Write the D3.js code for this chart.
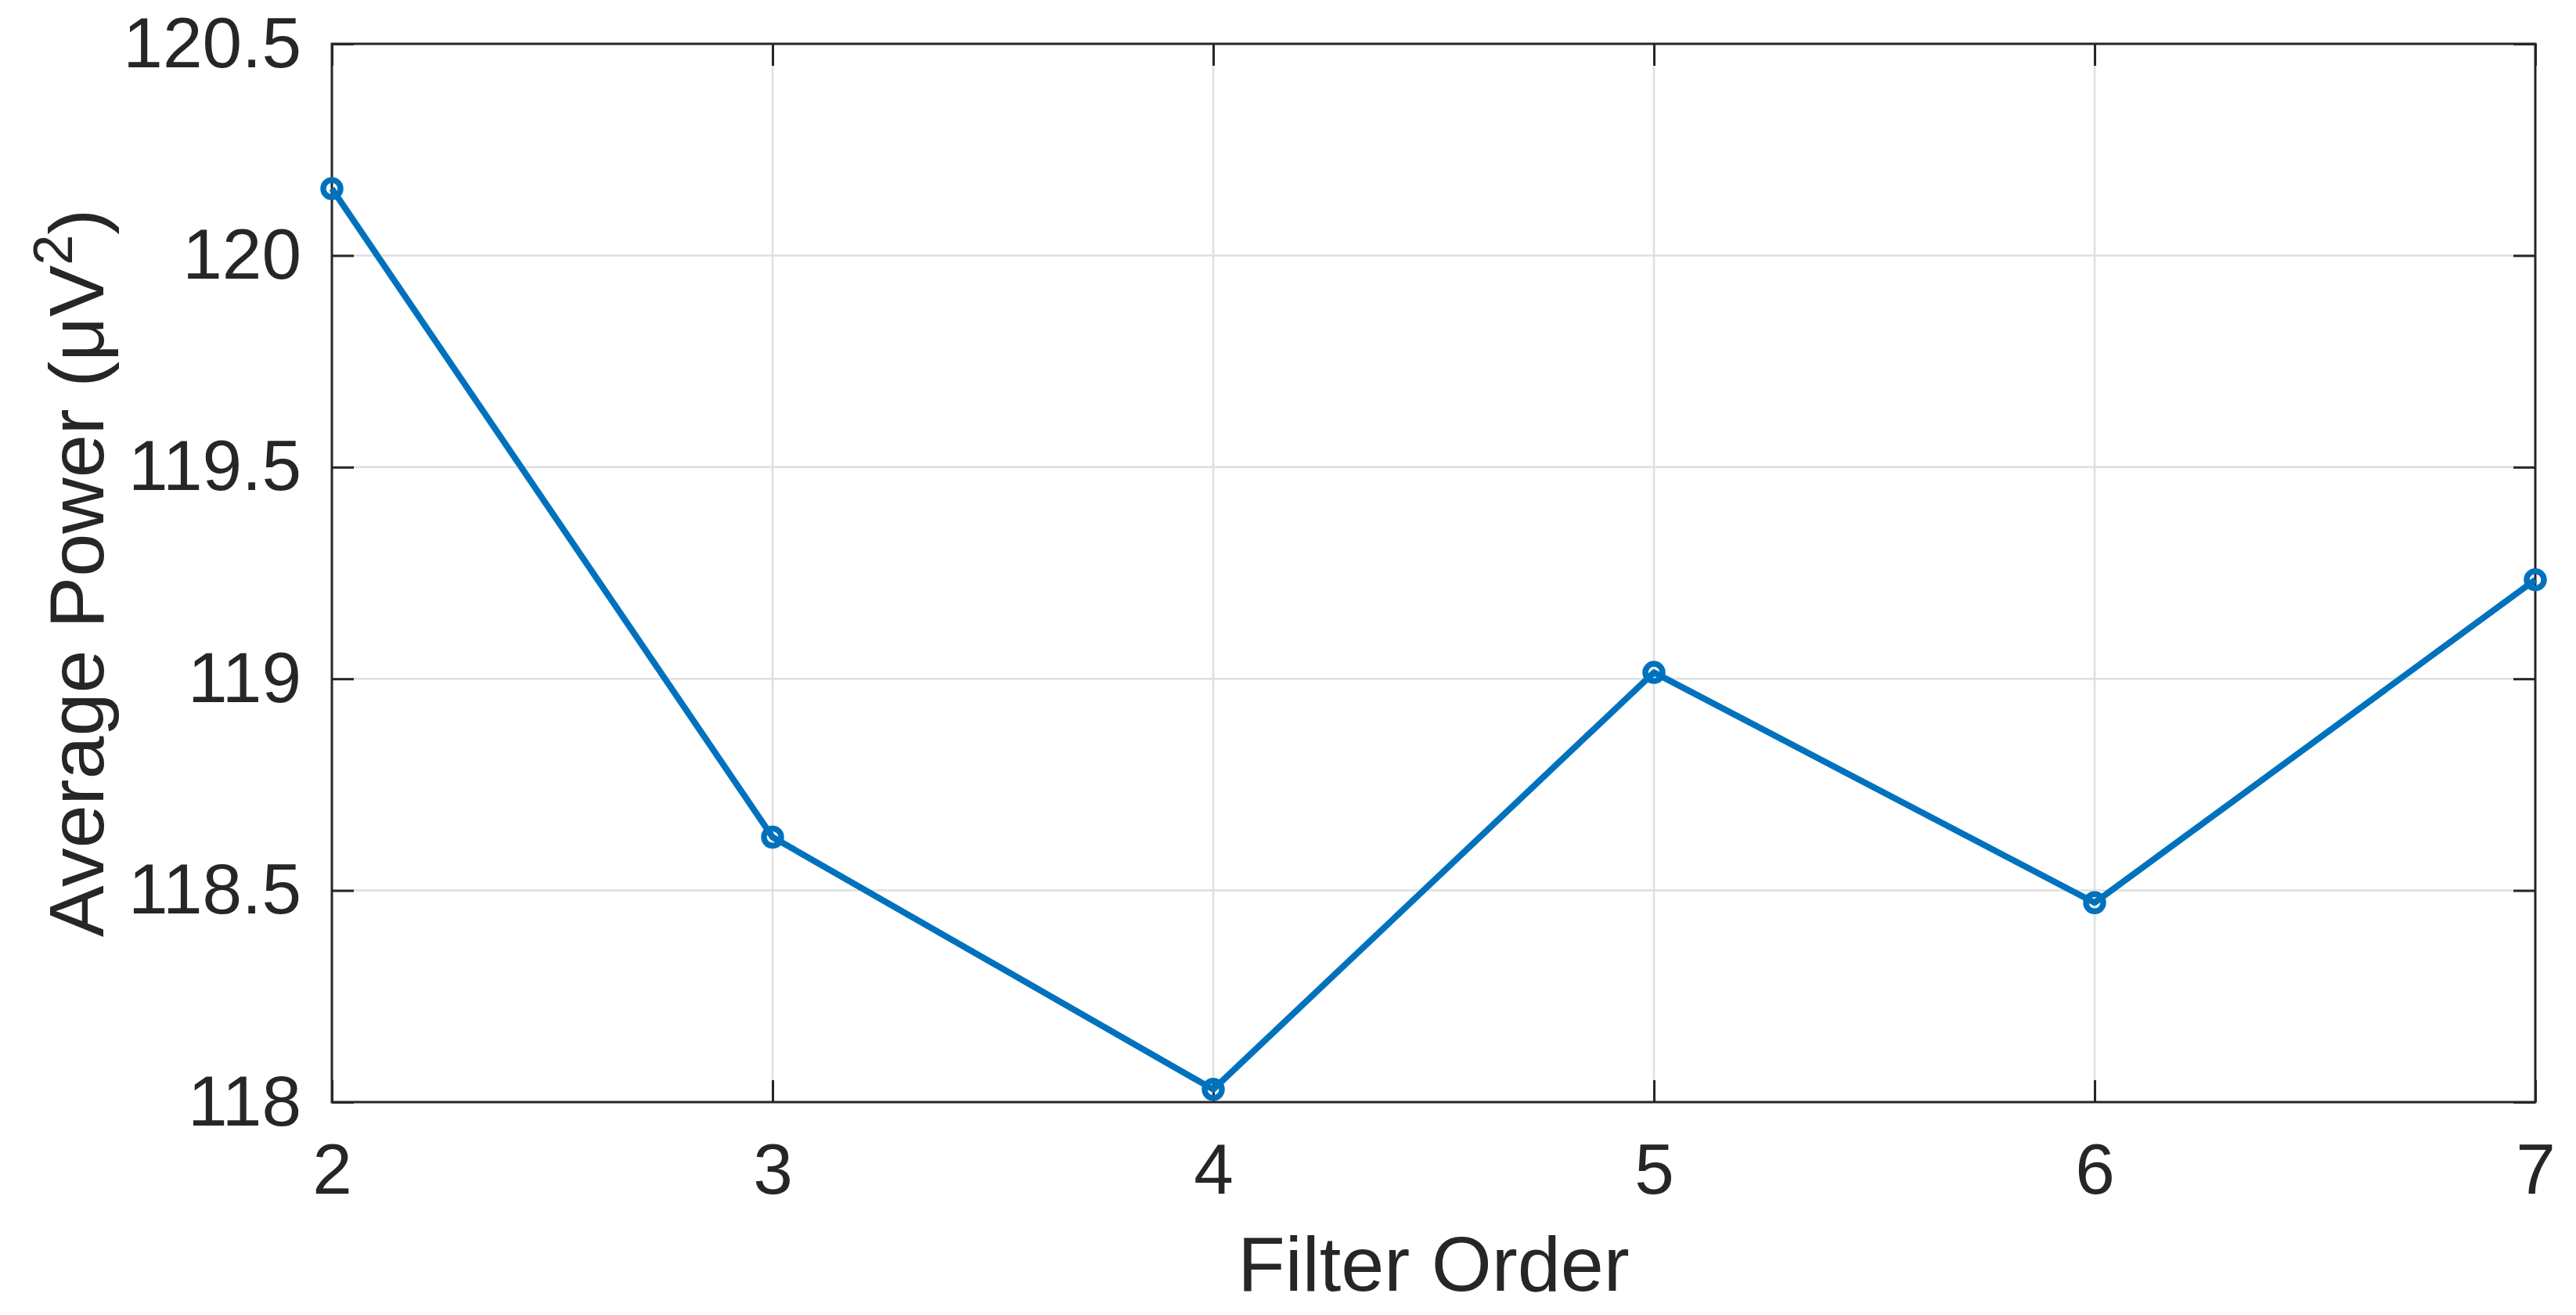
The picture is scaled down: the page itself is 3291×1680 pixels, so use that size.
<!DOCTYPE html>
<html>
<head>
<meta charset="utf-8">
<script src="https://cdn.jsdelivr.net/npm/d3@7"></script>
<style>
  html, body { margin: 0; padding: 0; background: #fff; }
  svg { display: block; }
  text { font-family: "Liberation Sans", Arial, Helvetica, sans-serif; fill: #262626; }
</style>
</head>
<body>
<script>
// Data
const filterOrders = [2, 3, 4, 5, 6, 7];
const averagePower = [120.158, 118.626, 118.030, 119.015, 118.471, 119.234];
const xTicks = [2, 3, 4, 5, 6, 7];
const yTicks = [118, 118.5, 119, 119.5, 120, 120.5];
const xLabel = "Filter Order";

const W = 3291, H = 1680;
const margin = { left: 424, right: W - 3239, top: 56, bottom: H - 1408 };
const iw = W - margin.left - margin.right;
const ih = H - margin.top - margin.bottom;

const svg = d3.select("body").append("svg").attr("width", W).attr("height", H);
svg.append("rect").attr("width", W).attr("height", H).attr("fill", "#fff");
const g = svg.append("g").attr("transform", `translate(${margin.left},${margin.top})`);

const x = d3.scaleLinear().domain([2, 7]).range([0, iw]);
const y = d3.scaleLinear().domain([118, 120.5]).range([ih, 0]);

// Grid
g.append("g").selectAll("line").data(xTicks.slice(1, -1)).join("line")
  .attr("x1", d => x(d)).attr("x2", d => x(d)).attr("y1", 0).attr("y2", ih)
  .attr("stroke", "#dfdfdf").attr("stroke-width", 2.5);
g.append("g").selectAll("line").data(yTicks.slice(1, -1)).join("line")
  .attr("y1", d => y(d)).attr("y2", d => y(d)).attr("x1", 0).attr("x2", iw)
  .attr("stroke", "#dfdfdf").attr("stroke-width", 2.5);

const tickLen = 28;
const fmtY = d => (Number.isInteger(d) ? d3.format("d")(d) : d3.format(".1f")(d));

// Axes (ticks inward)
const xAxis = g.append("g").attr("transform", `translate(0,${ih})`)
  .call(d3.axisBottom(x).tickValues(xTicks).tickFormat(d3.format("d")).tickSizeInner(-tickLen).tickSizeOuter(0).tickPadding(52));
const xAxisTop = g.append("g")
  .call(d3.axisTop(x).tickValues(xTicks).tickFormat("").tickSizeInner(-tickLen).tickSizeOuter(0));
const yAxis = g.append("g")
  .call(d3.axisLeft(y).tickValues(yTicks).tickFormat(fmtY).tickSizeInner(-tickLen).tickSizeOuter(0).tickPadding(39));
const yAxisRight = g.append("g").attr("transform", `translate(${iw},0)`)
  .call(d3.axisRight(y).tickValues(yTicks).tickFormat("").tickSizeInner(-tickLen).tickSizeOuter(0));

[xAxis, xAxisTop, yAxis, yAxisRight].forEach(a => {
  a.select(".domain").remove();
  a.selectAll(".tick line").attr("stroke", "#262626").attr("stroke-width", 3);
  a.selectAll("text").attr("font-size", 91).attr("fill", "#262626")
    .attr("font-family", '"Liberation Sans", Arial, sans-serif');
});
xAxis.selectAll("text").attr("dy", "0.71em");

// Box
g.append("rect").attr("x", 0).attr("y", 0).attr("width", iw).attr("height", ih)
  .attr("fill", "none").attr("stroke", "#262626").attr("stroke-width", 3);

// Line
const data = filterOrders.map((d, i) => ({ x: d, y: averagePower[i] }));
g.append("path").datum(data)
  .attr("d", d3.line().x(d => x(d.x)).y(d => y(d.y)))
  .attr("fill", "none").attr("stroke", "#0072BD").attr("stroke-width", 8)
  .attr("stroke-linejoin", "round");
g.append("g").selectAll("circle").data(data).join("circle")
  .attr("cx", d => x(d.x)).attr("cy", d => y(d.y)).attr("r", 11)
  .attr("fill", "none").attr("stroke", "#0072BD").attr("stroke-width", 7.5);

// Labels
svg.append("text").attr("x", margin.left + iw / 2).attr("y", 1649)
  .attr("text-anchor", "middle").attr("font-size", 99).text(xLabel);

const yl = svg.append("text")
  .attr("transform", `translate(132,${margin.top + ih / 2}) rotate(-90)`)
  .attr("text-anchor", "middle").attr("font-size", 99);
yl.append("tspan").text("Average Power (μV");
yl.append("tspan").attr("font-size", 70).attr("dy", -40).text("2");
yl.append("tspan").attr("dy", 40).text(")");
</script>
</body>
</html>
